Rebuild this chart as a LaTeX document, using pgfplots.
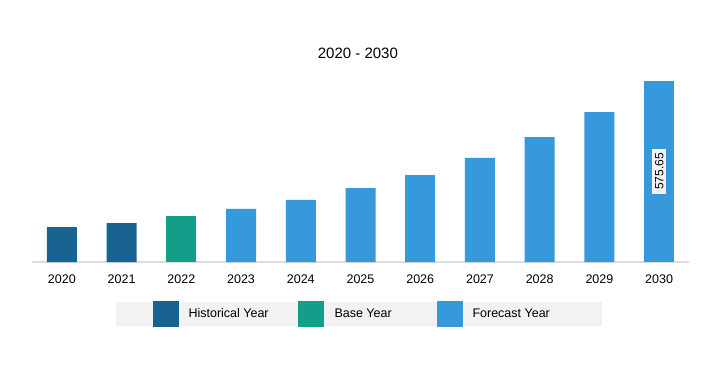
\documentclass[border=0pt]{standalone}
\usepackage{pgfplots}
\pgfplotsset{compat=1.18}
\usepackage{fontspec}
\setmainfont{Liberation Sans}
\definecolor{histc}{HTML}{18638F}
\definecolor{basec}{HTML}{139E89}
\definecolor{forec}{HTML}{3599DB}
\definecolor{leggray}{HTML}{F2F2F2}
\definecolor{axgray}{HTML}{DDDDDD}
\begin{document}
\begin{tikzpicture}
\useasboundingbox (0,0) rectangle (715pt,365pt);
\begin{axis}[
  at={(32pt,103pt)}, anchor=south west,
  scale only axis, width=657pt, height=181pt,
  xmin=-0.5, xmax=10.5, ymin=0, ymax=575.65,
  clip=false,
  ybar, bar width=30pt,
  hide y axis,
  axis x line*=bottom,
  x axis line style={draw=axgray, line width=1.5pt, -},
  xtick={0,...,10},
  xticklabels={2020,2021,2022,2023,2024,2025,2026,2027,2028,2029,2030},
  major x tick style={draw=none},
  extra x ticks={-0.5,0.5,...,10.5},
  extra x tick labels={},
  extra x tick style={tick align=outside, major tick length=5pt, tick style={draw=axgray, line width=1pt}},
  xticklabel style={font=\fontsize{12.5}{14}\selectfont, yshift=-5pt},
  title={\fontsize{15}{17}\selectfont 2020 - 2030},
  title style={at={(axis description cs:0.496,1.12)}, anchor=center},
  legend columns=3,
  legend style={at={(axis description cs:0.497,-0.218)}, anchor=north,
    fill=leggray, draw=none, inner xsep=37pt, inner ysep=-1pt,
    /tikz/every even column/.append style={column sep=0pt},
    /tikz/every odd column/.append style={column sep=0pt},
    nodes={inner sep=0pt, font=\fontsize{12.5}{14}\selectfont}},
  legend image code/.code={\fill (0pt,-13pt) rectangle (26pt,13pt);},
]
\addplot[fill=histc, draw=none, bar shift=0pt, forget plot] coordinates {(0,111.3) (1,124.0)};
\addplot[fill=basec, draw=none, bar shift=0pt, forget plot] coordinates {(2,146.3)};
\addplot[fill=forec, draw=none, bar shift=0pt, forget plot] coordinates {(3,168.6) (4,197.2) (5,235.3) (6,276.7) (7,330.8) (8,397.5) (9,477.0)};
\addplot[fill=forec, draw=none, bar shift=0pt, forget plot,
  nodes near coords={575.65},
  every node near coord/.style={yshift=-90.5pt, rotate=90, anchor=center, fill=leggray, inner xsep=4pt, inner ysep=3pt, font=\fontsize{12}{13}\selectfont, text=black}]
  coordinates {(10,575.65)};
\addlegendimage{fill=histc, draw=none}
\addlegendentry{\makebox[119pt][l]{\hspace{10pt}Historical Year}}
\addlegendimage{fill=basec, draw=none}
\addlegendentry{\makebox[113pt][l]{\hspace{11pt}Base Year}}
\addlegendimage{fill=forec, draw=none}
\addlegendentry{\makebox[102pt][l]{\hspace{10pt}Forecast Year}}
\end{axis}
\end{tikzpicture}
\end{document}
